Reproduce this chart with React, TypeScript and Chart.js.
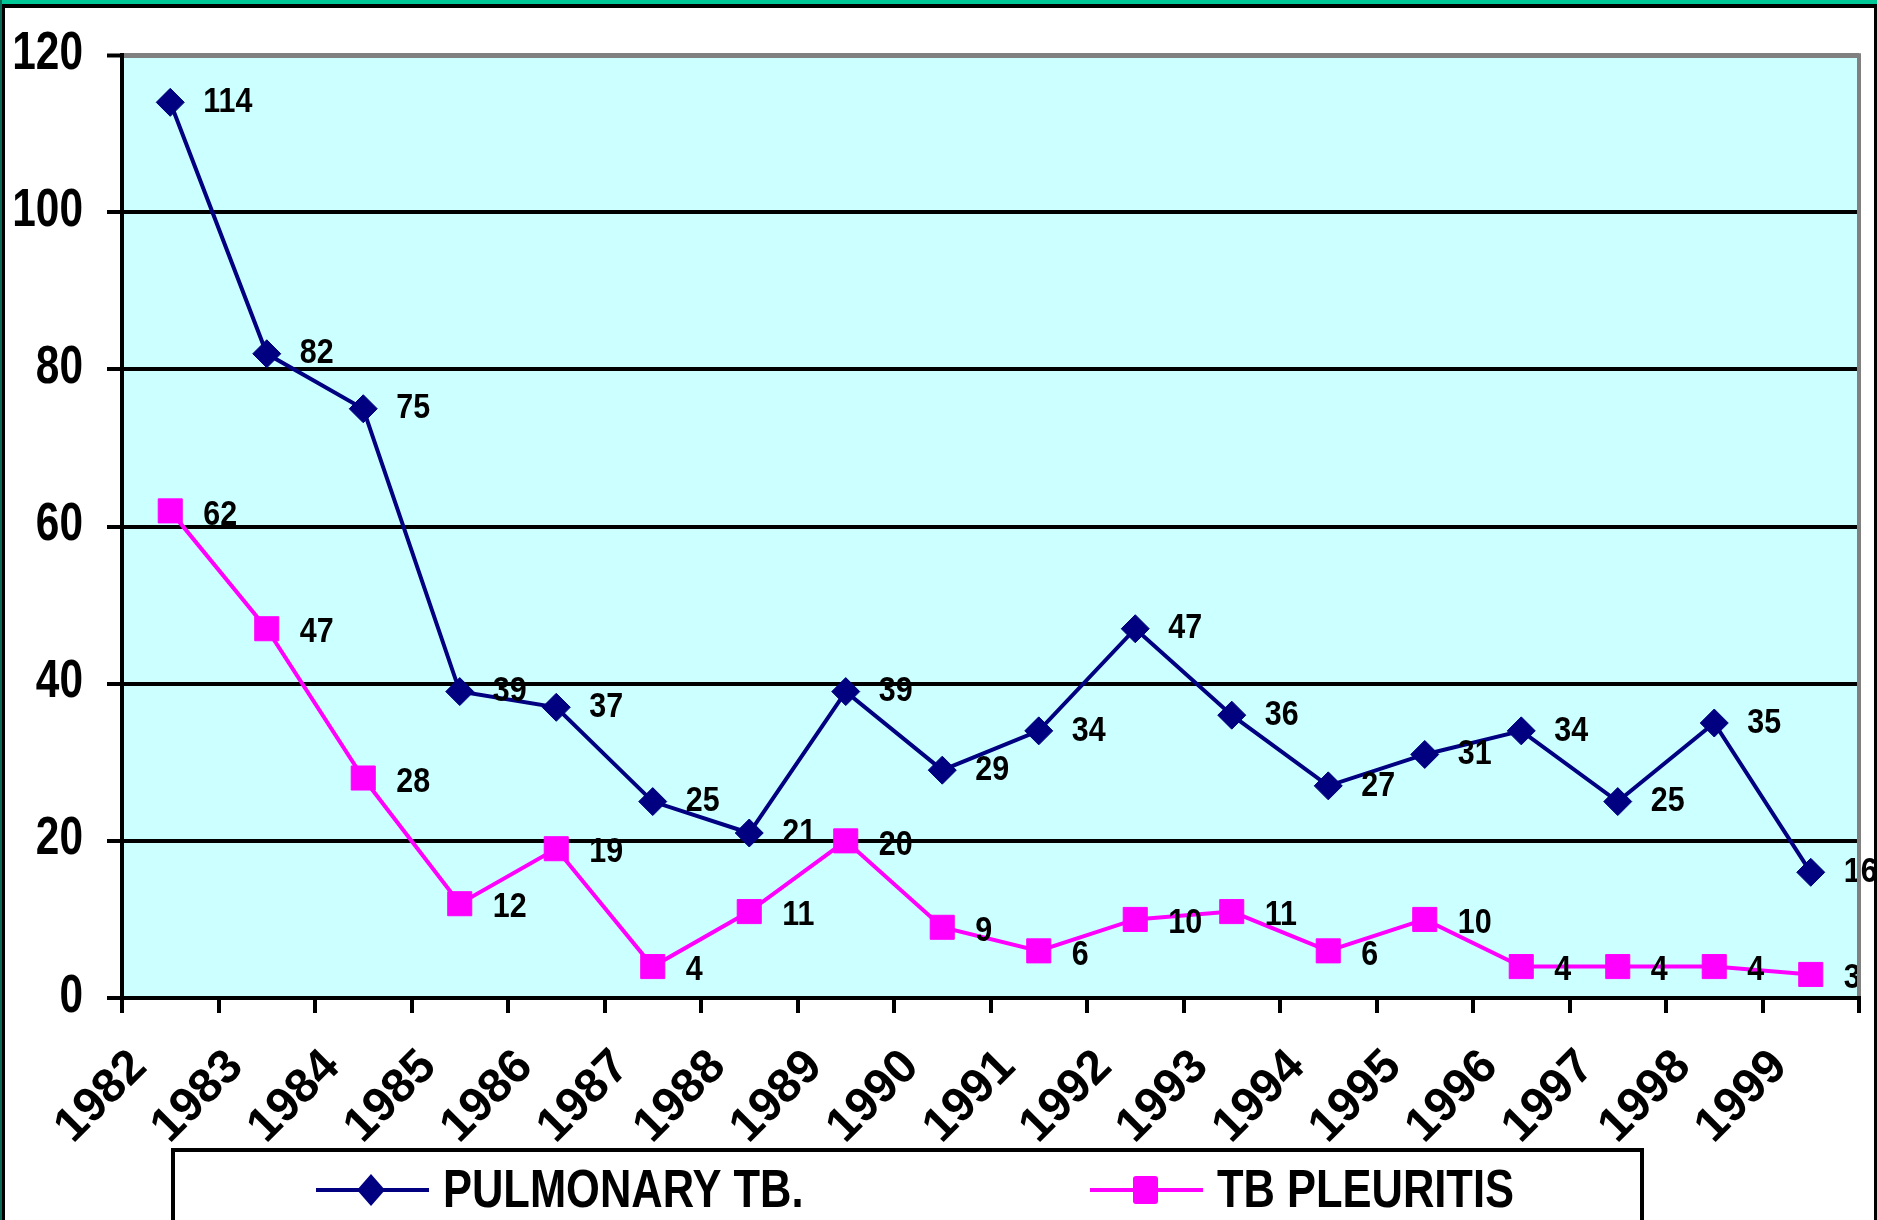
import React, { useEffect, useRef } from "react";
import { Chart, registerables } from "chart.js";

Chart.register(...registerables);

// ---- data ----
const years = ["1982","1983","1984","1985","1986","1987","1988","1989","1990","1991","1992","1993","1994","1995","1996","1997","1998","1999"];
const pulmonaryTB = [114, 82, 75, 39, 37, 25, 21, 39, 29, 34, 47, 36, 27, 31, 34, 25, 35, 16];
const tbPleuritis = [62, 47, 28, 12, 19, 4, 11, 20, 9, 6, 10, 11, 6, 10, 4, 4, 4, 3];
const seriesNames = ["PULMONARY TB.", "TB PLEURITIS"];
const yMin = 0;
const yMax = 120;
const yStep = 20;

const NAVY = "#000080";
const MAGENTA = "#FF00FF";
const FONT = "'Liberation Sans', Arial, sans-serif";

const W = 1877;
const H = 1220;

// draw text squeezed horizontally (the reference uses a condensed face)
function squeezedText(ctx: any, text: string, x: number, y: number, sx: number) {
  ctx.save();
  ctx.translate(x, y);
  ctx.scale(sx, 1);
  ctx.fillText(text, 0, 0);
  ctx.restore();
}

const framePlugin = {
  id: "frame",
  beforeDraw(chart: any) {
    const { ctx, chartArea } = chart;
    ctx.save();
    ctx.fillStyle = "#ffffff";
    ctx.fillRect(0, 0, W, H);
    ctx.fillStyle = "#CCFFFF";
    ctx.fillRect(chartArea.left, chartArea.top, chartArea.right - chartArea.left, chartArea.bottom - chartArea.top);
    ctx.restore();
  },
  afterDraw(chart: any) {
    const { ctx, chartArea } = chart;
    ctx.save();
    // y tick labels (condensed bold)
    const ys = chart.scales.y;
    ctx.fillStyle = "#000000";
    ctx.font = `bold 53px ${FONT}`;
    ctx.textAlign = "right";
    ctx.textBaseline = "middle";
    ys.ticks.forEach((t: any) => {
      const py = ys.getPixelForValue(t.value);
      squeezedText(ctx, String(t.label), ys.right - 39, py - 1, 0.8);
    });

    // right border of plot area
    ctx.strokeStyle = "#808080";
    ctx.lineWidth = 4;
    ctx.beginPath();
    ctx.moveTo(chartArea.right, chartArea.top - 2);
    ctx.lineTo(chartArea.right, chartArea.bottom - 2);
    ctx.stroke();

    // outer frame
    ctx.fillStyle = "#00C896";
    ctx.fillRect(0, 0, W, 4);
    ctx.fillStyle = "#000000";
    ctx.fillRect(0, 4, W, 4);
    ctx.fillStyle = "#0a6a55";
    ctx.fillRect(0, 0, 2, H);
    ctx.fillStyle = "#000000";
    ctx.fillRect(2, 4, 3, H);
    ctx.fillRect(W - 3, 4, 3, H);

    // legend box
    const lx = 173, ly = 1150, lw = 1469;
    ctx.fillStyle = "#ffffff";
    ctx.fillRect(lx, ly, lw, H - ly + 10);
    ctx.strokeStyle = "#000000";
    ctx.lineWidth = 4;
    ctx.strokeRect(lx, ly, lw, H - ly + 20);

    const items = [
      { x: 316, color: NAVY, shape: "diamond", label: chart.data.datasets[0].label },
      { x: 1090, color: MAGENTA, shape: "square", label: chart.data.datasets[1].label },
    ];
    const cy = 1190;
    items.forEach((it) => {
      ctx.strokeStyle = it.color;
      ctx.lineWidth = 4;
      ctx.beginPath();
      ctx.moveTo(it.x, cy);
      ctx.lineTo(it.x + 113, cy);
      ctx.stroke();
      const mx = it.x + 55;
      ctx.fillStyle = it.color;
      ctx.beginPath();
      if (it.shape === "diamond") {
        ctx.moveTo(mx, cy - 16);
        ctx.lineTo(mx + 14, cy);
        ctx.lineTo(mx, cy + 16);
        ctx.lineTo(mx - 14, cy);
        ctx.closePath();
        ctx.fill();
      } else {
        ctx.roundRect(mx - 12, cy - 14, 25, 28, 3);
        ctx.fill();
      }
      ctx.fillStyle = "#000000";
      ctx.font = `bold 53px ${FONT}`;
      ctx.textBaseline = "alphabetic";
      ctx.textAlign = "left";
      squeezedText(ctx, it.label, it.x + 127, 1207, 0.82);
    });
    ctx.restore();
  },
};

const valueLabelPlugin = {
  id: "valueLabels",
  afterDatasetsDraw(chart: any) {
    const { ctx } = chart;
    ctx.save();
    ctx.fillStyle = "#000000";
    ctx.font = `bold 35px ${FONT}`;
    ctx.textAlign = "left";
    ctx.textBaseline = "middle";
    chart.data.datasets.forEach((ds: any, i: number) => {
      const meta = chart.getDatasetMeta(i);
      meta.data.forEach((pt: any, j: number) => {
        squeezedText(ctx, String(ds.data[j]), pt.x + 33, pt.y + (i === 0 ? 0 : 4), 0.87);
      });
    });
    ctx.restore();
  },
};

export default function App() {
  const ref = useRef<HTMLCanvasElement | null>(null);

  useEffect(() => {
    document.body.style.margin = "0";
    const canvas = ref.current;
    if (!canvas) return;
    const chart = new Chart(canvas, {
      type: "line",
      data: {
        labels: years,
        datasets: [
          {
            label: seriesNames[0],
            data: pulmonaryTB,
            borderColor: NAVY,
            backgroundColor: NAVY,
            borderWidth: 4,
            pointStyle: "rectRot",
            pointRadius: 14,
            pointBorderWidth: 1,
            pointBackgroundColor: NAVY,
            pointBorderColor: NAVY,
            tension: 0,
            fill: false,
          },
          {
            label: seriesNames[1],
            data: tbPleuritis,
            borderColor: MAGENTA,
            backgroundColor: MAGENTA,
            borderWidth: 4,
            pointStyle: "rect",
            pointRadius: 17,
            pointBorderWidth: 1,
            pointBackgroundColor: MAGENTA,
            pointBorderColor: MAGENTA,
            tension: 0,
            fill: false,
          },
        ],
      },
      options: {
        responsive: false,
        animation: false,
        devicePixelRatio: 1,
        layout: { padding: { top: 55, right: 15, left: 0, bottom: 0 } },
        plugins: {
          legend: { display: false },
          tooltip: { enabled: false },
          title: { display: false },
        },
        scales: {
          x: {
            type: "category",
            offset: true,
            grid: {
              offset: true,
              drawOnChartArea: false,
              drawTicks: true,
              tickLength: 15,
              color: "#000000",
              lineWidth: 4,
            },
            border: { display: true, color: "#000000", width: 4 },
            ticks: {
              autoSkip: false,
              minRotation: 45,
              maxRotation: 45,
              labelOffset: -31,
              padding: 26,
              color: "#000000",
              font: { family: FONT, size: 48, weight: "bold" },
            },
            afterFit: (s: any) => {
              s.height = 222;
              s.paddingLeft = 0;
              s.paddingRight = 0;
            },
          },
          y: {
            min: yMin,
            max: yMax,
            grid: {
              drawOnChartArea: true,
              drawTicks: true,
              tickLength: 15,
              tickColor: "#000000",
              tickWidth: 4,
              color: (c: any) => (c.tick && c.tick.value === yMax ? "#808080" : "#000000"),
              lineWidth: (c: any) => (c.tick && c.tick.value === yMax ? 5 : 4),
            },
            border: { display: true, color: "#000000", width: 4 },
            ticks: {
              stepSize: yStep,
              padding: 24,
              color: "rgba(0,0,0,0)",
              font: { family: FONT, size: 52, weight: "bold" },
            },
            afterFit: (s: any) => {
              s.width = 122;
            },
          },
        },
      },
      plugins: [framePlugin, valueLabelPlugin],
    } as any);
    return () => chart.destroy();
  }, []);

  return (
    <div style={{ width: W, height: H, position: "relative", overflow: "hidden" }}>
      <canvas ref={ref} width={W} height={H} style={{ display: "block" }} />
    </div>
  );
}
